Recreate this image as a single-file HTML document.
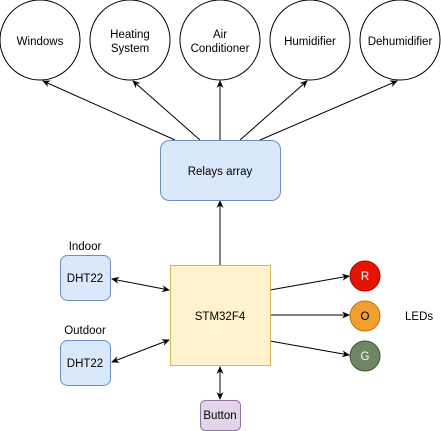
<!DOCTYPE html>
<html><head><style>body{margin:0;background:#fff}svg{display:block}text{font-family:"Liberation Sans",sans-serif;font-size:11.5px;fill:#000}</style></head><body>
<svg width="441" height="431" viewBox="0 0 441 431">
<defs><marker id="a" markerWidth="8" markerHeight="8" refX="7" refY="4" orient="auto-start-reverse" markerUnits="userSpaceOnUse"><path d="M0,0.5 L8,4 L0,7.5 L2.5,4z" fill="#000"/></marker></defs>
<g fill="#fff" stroke="#000" stroke-width="1">
<circle cx="40" cy="40" r="40"/><circle cx="130" cy="40" r="40"/><circle cx="220" cy="40" r="40"/><circle cx="310" cy="40" r="40"/><circle cx="400" cy="40" r="40"/>
</g>
<g text-anchor="middle">
<text x="40" y="45">Windows</text>
<text x="130" y="38">Heating</text><text x="130" y="52">System</text>
<text x="220" y="38">Air</text><text x="220" y="52">Conditioner</text>
<text x="310" y="45">Humidifier</text>
<text x="400" y="45">Dehumidifier</text>
</g>
<g stroke="#000" fill="none" marker-end="url(#a)">
<line x1="175" y1="140" x2="43" y2="81"/>
<line x1="200" y1="140" x2="133" y2="81"/>
<line x1="220" y1="140" x2="220" y2="81"/>
<line x1="240" y1="140" x2="307" y2="81"/>
<line x1="260" y1="140" x2="397" y2="81"/>
<line x1="220" y1="265" x2="220" y2="201"/>
<line x1="270" y1="290" x2="349" y2="276"/>
<line x1="270" y1="315" x2="349" y2="315"/>
<line x1="270" y1="341" x2="349" y2="355"/>
<line x1="112" y1="279" x2="169" y2="290" marker-start="url(#a)"/>
<line x1="112" y1="362" x2="169" y2="340" marker-start="url(#a)"/>
<line x1="220" y1="367" x2="220" y2="399" marker-start="url(#a)"/>
</g>
<rect x="160.5" y="140.5" width="120" height="60" rx="9" fill="#dae8fc" stroke="#6c8ebf"/>
<text x="220" y="175" text-anchor="middle">Relays array</text>
<rect x="170.5" y="265.5" width="100" height="100" fill="#fff2cc" stroke="#d6b656"/>
<text x="220" y="320" text-anchor="middle">STM32F4</text>
<rect x="60.5" y="255.5" width="50" height="45" rx="7" fill="#dae8fc" stroke="#6c8ebf"/>
<text x="85" y="282" text-anchor="middle">DHT22</text>
<rect x="60.5" y="340.5" width="50" height="45" rx="7" fill="#dae8fc" stroke="#6c8ebf"/>
<text x="85" y="367" text-anchor="middle">DHT22</text>
<text x="85" y="250" text-anchor="middle">Indoor</text>
<text x="85" y="334" text-anchor="middle">Outdoor</text>
<rect x="200.5" y="400.5" width="40" height="30" rx="5" fill="#e1d5e7" stroke="#9673a6"/>
<text x="220" y="419" text-anchor="middle">Button</text>
<circle cx="365" cy="276" r="15" fill="#e51400" stroke="#b20000"/>
<circle cx="365" cy="316" r="15" fill="#f0a030" stroke="#bd7000"/>
<circle cx="365" cy="356" r="15" fill="#6d8764" stroke="#3a5431"/>
<g text-anchor="middle"><text x="365" y="280" style="fill:#fff">R</text><text x="365" y="320">O</text><text x="365" y="360" style="fill:#fff">G</text></g>
<text x="405" y="320">LEDs</text>
</svg>
</body></html>
